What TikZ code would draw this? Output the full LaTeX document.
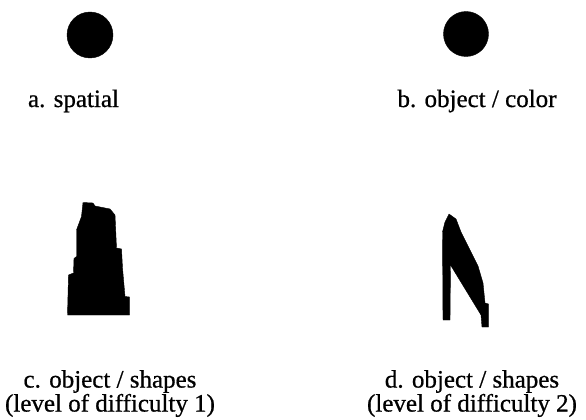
\documentclass[tikz,border=0pt]{standalone}
\usepackage{fontspec}
\setmainfont{Liberation Serif}
\newfontfamily\capfont{Liberation Serif}[FakeBold=0.7]
\usepackage{tikz}
\usetikzlibrary{positioning}

\tikzset{
  caption/.style={font=\capfont\fontsize{25}{24}\selectfont,inner sep=0pt,align=center},
  blob/.style={fill=black,draw=black,line join=round}
}

\begin{document}
\begin{tikzpicture}[x=1pt,y=-1pt]
 \useasboundingbox (0,0) rectangle (586,420);
 % a. spatial
 \fill[blob] (90,35) circle (23);
 \node[caption,anchor=base] (capa) at (73.5,107) {a. spatial};
 % b. object / color
 \fill[blob] (466,34) circle (22.5);
 \node[caption,anchor=base] (capb) at (477,107) {b. object / color};
 % c. shape, level 1
 \fill[blob] (83,202.5) -- (93,203) -- (95,206) -- (110,209) -- (115,215)
   -- (116.5,248) -- (121.5,249) -- (122.5,268) -- (125,296.5) -- (129.5,297)
   -- (129.5,315) -- (67.5,315) -- (68.5,275) -- (73.5,273) -- (74,258.5)
   -- (76.5,256.5) -- (76.5,230) -- (81.5,216.5) -- cycle;
 \node[caption,anchor=north] (capc) at (110,370) {c. object / shapes\\(level of difficulty 1)};
 % d. shape, level 2
 \fill[blob] (449,214) -- (456,219) -- (461,232) -- (470,250) -- (478,266)
   -- (483,283) -- (485,303) -- (488.5,304) -- (488.5,327) -- (482,327)
   -- (481,315) -- (450.5,265) -- (450,320) -- (443,320) -- (442.5,232)
   -- (445,222) -- cycle;
 \node[caption,anchor=north] (capd) at (472,370) {d. object / shapes\\(level of difficulty 2)};
\end{tikzpicture}
\end{document}
